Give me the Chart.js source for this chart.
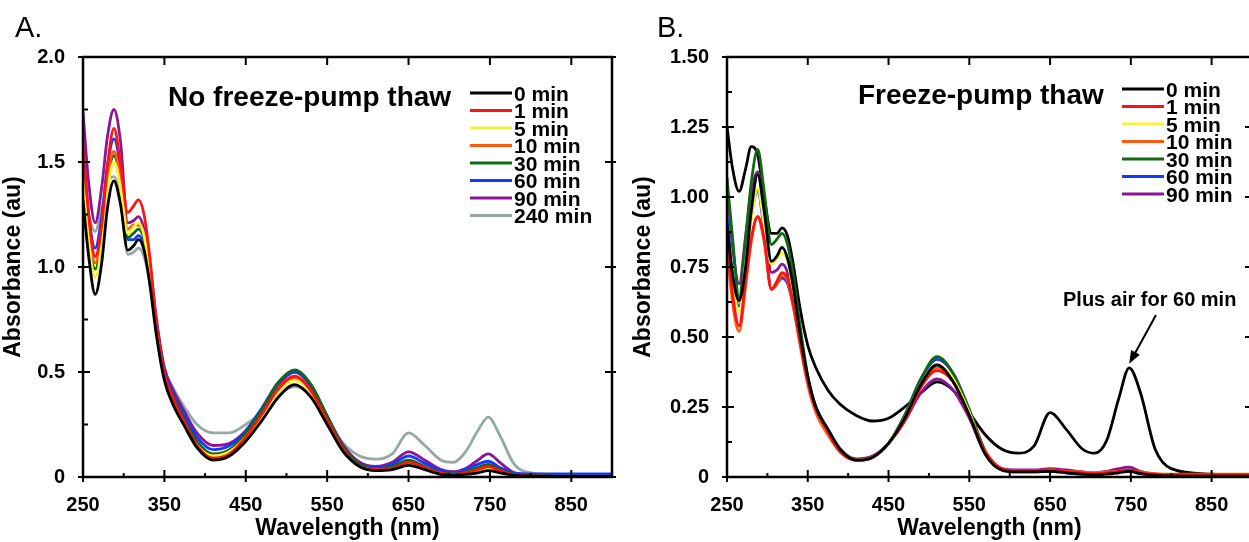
<!DOCTYPE html>
<html>
<head>
<meta charset="utf-8">
<script src="https://cdn.jsdelivr.net/npm/chart.js@4.4.1/dist/chart.umd.min.js"></script>
<style>
html, body { margin: 0; padding: 0; background: #fff; overflow: hidden; width: 1249px; height: 542px; }
#panelA { position: absolute; left: 0; top: 0; }
#panelB { position: absolute; left: 630px; top: 0; }
</style>
</head>
<body>
<canvas id="panelA" width="630" height="542"></canvas>
<canvas id="panelB" width="640" height="542"></canvas>
<script>
// wavelengths (nm) shared by every spectrum
const wavelengths = [250, 257, 265, 273, 280, 288, 296, 305, 312, 318, 325, 332, 340, 350, 360, 375, 390, 410, 430, 450, 470, 490, 510, 530, 550, 570, 590, 610, 630, 650, 670, 690, 705, 720, 735, 748, 762, 780, 800, 850, 900];

// axis ticks
const xTickValues = [250, 350, 450, 550, 650, 750, 850];
const xMinorTicks = [300, 400, 500, 600, 700, 800, 900];
const yTicksA = [0, 0.5, 1.0, 1.5, 2.0];
const yMinorA = [0.25, 0.75, 1.25, 1.75];
const yTicksB = [0, 0.25, 0.5, 0.75, 1.0, 1.25, 1.5];
const yMinorB = [0.125, 0.375, 0.625, 0.875, 1.125, 1.375];

const timeLabelsA = ['0 min', '1 min', '5 min', '10 min', '30 min', '60 min', '90 min', '240 min'];
const timeLabelsB = ['0 min', '1 min', '5 min', '10 min', '30 min', '60 min', '90 min'];
const lineColors = ['#000000', '#ff1212', '#f4f43a', '#ff5a14', '#0f6a12', '#1438ff', '#8a1696', '#96a8a4'];

// A. No freeze-pump thaw
const noFpt0 =   [1.32,1.05,0.87,1.02,1.28,1.41,1.30,1.08,1.10,1.13,1.08,0.92,0.68,0.46,0.35,0.24,0.14,0.08,0.10,0.17,0.27,0.38,0.44,0.38,0.25,0.12,0.05,0.03,0.035,0.055,0.035,0.012,0.008,0.012,0.02,0.03,0.02,0.008,0.005,0.003,0.003];
const noFpt1 =   [1.58,1.25,1.05,1.20,1.48,1.66,1.50,1.26,1.29,1.32,1.25,1.05,0.74,0.49,0.38,0.26,0.15,0.09,0.11,0.19,0.30,0.42,0.48,0.41,0.27,0.13,0.05,0.035,0.04,0.07,0.045,0.018,0.012,0.02,0.035,0.05,0.03,0.01,0.005,0.003,0.003];
const noFpt5 =   [1.42,1.12,0.95,1.10,1.36,1.50,1.38,1.16,1.19,1.21,1.15,0.98,0.71,0.47,0.36,0.25,0.15,0.10,0.12,0.19,0.29,0.40,0.46,0.40,0.26,0.12,0.05,0.033,0.038,0.06,0.04,0.015,0.01,0.016,0.028,0.04,0.025,0.008,0.004,0.003,0.003];
const noFpt10 =  [1.45,1.18,1.02,1.16,1.42,1.55,1.42,1.18,1.20,1.20,1.15,0.98,0.72,0.48,0.37,0.25,0.15,0.10,0.12,0.19,0.29,0.41,0.47,0.40,0.26,0.12,0.05,0.034,0.04,0.065,0.042,0.016,0.011,0.018,0.032,0.045,0.028,0.009,0.004,0.003,0.003];
const noFpt30 =  [1.48,1.15,0.99,1.14,1.40,1.53,1.41,1.14,1.16,1.18,1.13,0.98,0.73,0.49,0.39,0.27,0.17,0.11,0.13,0.21,0.32,0.45,0.51,0.44,0.29,0.14,0.06,0.04,0.05,0.08,0.05,0.02,0.015,0.025,0.045,0.06,0.035,0.012,0.006,0.004,0.004];
const noFpt60 =  [1.57,1.25,1.09,1.24,1.48,1.61,1.47,1.13,1.13,1.15,1.10,0.97,0.74,0.50,0.40,0.29,0.19,0.13,0.15,0.22,0.33,0.45,0.50,0.44,0.29,0.14,0.06,0.045,0.06,0.10,0.065,0.03,0.02,0.035,0.06,0.075,0.045,0.02,0.015,0.015,0.015];
const noFpt90 =  [1.74,1.40,1.21,1.38,1.62,1.75,1.60,1.21,1.22,1.24,1.18,1.02,0.76,0.52,0.42,0.31,0.21,0.15,0.16,0.22,0.32,0.44,0.50,0.43,0.29,0.15,0.07,0.05,0.07,0.12,0.08,0.035,0.025,0.04,0.08,0.11,0.07,0.02,0.01,0.01,0.01];
const noFpt240 = [1.40,1.25,1.17,1.28,1.40,1.43,1.33,1.06,1.07,1.09,1.05,0.93,0.73,0.52,0.43,0.33,0.25,0.21,0.21,0.25,0.31,0.39,0.43,0.39,0.27,0.16,0.10,0.085,0.11,0.21,0.15,0.08,0.07,0.12,0.22,0.285,0.20,0.06,0.02,0.01,0.01];

// B. Freeze-pump thaw
const fpt0 =   [0.90,0.72,0.63,0.75,0.95,1.08,0.95,0.77,0.79,0.82,0.78,0.68,0.52,0.36,0.25,0.17,0.10,0.06,0.07,0.12,0.21,0.33,0.40,0.34,0.22,0.08,0.025,0.018,0.018,0.02,0.015,0.01,0.008,0.01,0.015,0.02,0.012,0.006,0.004,0.003,0.003];
const fpt1 =   [0.85,0.65,0.54,0.70,0.85,0.93,0.85,0.67,0.70,0.73,0.71,0.62,0.49,0.34,0.24,0.16,0.09,0.06,0.07,0.12,0.20,0.32,0.38,0.34,0.22,0.09,0.03,0.022,0.022,0.025,0.02,0.015,0.012,0.015,0.02,0.025,0.015,0.01,0.008,0.008,0.008];
const fpt5 =   [0.88,0.70,0.59,0.76,0.92,1.03,0.90,0.76,0.78,0.80,0.77,0.66,0.51,0.35,0.24,0.16,0.10,0.06,0.07,0.12,0.21,0.33,0.40,0.35,0.23,0.08,0.025,0.02,0.02,0.022,0.017,0.012,0.01,0.012,0.018,0.022,0.013,0.008,0.006,0.005,0.005];
const fpt10 =  [0.82,0.62,0.52,0.68,0.84,0.93,0.84,0.67,0.69,0.72,0.70,0.61,0.48,0.33,0.23,0.15,0.09,0.06,0.07,0.12,0.21,0.33,0.39,0.34,0.22,0.09,0.03,0.022,0.022,0.025,0.02,0.018,0.015,0.018,0.02,0.022,0.018,0.012,0.01,0.01,0.01];
const fpt30 =  [1.07,0.85,0.64,0.85,1.05,1.17,1.02,0.83,0.85,0.87,0.83,0.72,0.55,0.36,0.25,0.17,0.10,0.06,0.07,0.12,0.22,0.35,0.43,0.37,0.24,0.09,0.025,0.02,0.02,0.025,0.02,0.015,0.012,0.015,0.02,0.025,0.015,0.01,0.008,0.006,0.005];
const fpt60 =  [0.93,0.72,0.61,0.77,0.93,1.02,0.88,0.67,0.69,0.71,0.69,0.61,0.49,0.34,0.24,0.16,0.10,0.06,0.07,0.12,0.22,0.35,0.42,0.37,0.24,0.09,0.025,0.018,0.018,0.02,0.015,0.01,0.008,0.012,0.018,0.022,0.012,0.008,0.006,0.005,0.005];
const fpt90 =  [1.04,0.82,0.69,0.86,1.02,1.09,0.95,0.73,0.74,0.76,0.73,0.64,0.50,0.35,0.25,0.17,0.10,0.065,0.075,0.12,0.20,0.30,0.35,0.31,0.21,0.08,0.03,0.025,0.025,0.03,0.025,0.018,0.015,0.02,0.03,0.035,0.02,0.01,0.008,0.006,0.005];
const fptPlusAir = [1.25,1.10,1.02,1.10,1.18,1.15,1.00,0.87,0.87,0.89,0.86,0.76,0.61,0.47,0.39,0.31,0.26,0.22,0.20,0.21,0.25,0.30,0.34,0.31,0.23,0.15,0.10,0.085,0.11,0.23,0.17,0.10,0.085,0.13,0.28,0.39,0.30,0.10,0.03,0.01,0.005];

Chart.defaults.font.family = "'Liberation Sans', Arial, sans-serif";
Chart.defaults.font.weight = 'bold';
Chart.defaults.color = '#000';

function toPoints(values) {
    return wavelengths.map((w, i) => ({ x: w, y: values[i] }));
}

function makeDataset(label, values, color, hideInLegend) {
    return {
        label: label,
        data: toPoints(values),
        borderColor: color,
        backgroundColor: color,
        borderWidth: 2.8,
        pointRadius: 0,
        cubicInterpolationMode: 'monotone',
        hideInLegend: !!hideInLegend
    };
}

// frame, inward ticks, panel letter, title, legend and annotation
const decorPlugin = {
    id: 'decor',
    afterDatasetsDraw(chart, args, opts) {
        const ctx = chart.ctx;
        const { left, right, top, bottom } = chart.chartArea;
        const xs = chart.scales.x, ys = chart.scales.y;
        ctx.save();
        ctx.strokeStyle = '#000';
        ctx.lineWidth = 2.5;
        ctx.strokeRect(left, top, right - left, bottom - top);

        ctx.lineWidth = 2;
        ctx.beginPath();
        opts.xMajor.forEach(v => {
            const px = xs.getPixelForValue(v);
            ctx.moveTo(px, bottom + 5); ctx.lineTo(px, bottom - 7);
            ctx.moveTo(px, top); ctx.lineTo(px, top + 8);
        });
        opts.xMinor.forEach(v => {
            const px = xs.getPixelForValue(v);
            ctx.moveTo(px, bottom); ctx.lineTo(px, bottom - 4);
        });
        opts.yMajor.forEach(v => {
            const py = ys.getPixelForValue(v);
            ctx.moveTo(left - 5, py); ctx.lineTo(left + 7, py);
            ctx.moveTo(right + 4, py); ctx.lineTo(right - 7, py);
        });
        opts.yMinor.forEach(v => {
            const py = ys.getPixelForValue(v);
            ctx.moveTo(left, py); ctx.lineTo(left + 5, py);
        });
        ctx.stroke();

        // panel letter
        ctx.fillStyle = '#000';
        ctx.textAlign = 'left';
        ctx.textBaseline = 'alphabetic';
        ctx.font = "normal 29px 'Liberation Sans', Arial, sans-serif";
        ctx.fillText(opts.letter, opts.letterX, 37);

        // in-plot title
        ctx.font = "bold 28px 'Liberation Sans', Arial, sans-serif";
        ctx.fillText(opts.title, opts.titleX, opts.titleY);

        // legend
        ctx.font = "bold 21px 'Liberation Sans', Arial, sans-serif";
        let row = 0;
        chart.data.datasets.forEach(ds => {
            if (ds.hideInLegend) return;
            const y = opts.legendY + row * 17.5;
            ctx.strokeStyle = ds.borderColor;
            ctx.lineWidth = 3;
            ctx.beginPath();
            ctx.moveTo(opts.legendX, y);
            ctx.lineTo(opts.legendX + 42, y);
            ctx.stroke();
            ctx.fillText(ds.label, opts.legendX + 44, y + 7.5);
            row++;
        });

        // annotation with arrow
        if (opts.note) {
            ctx.font = "bold 20px 'Liberation Sans', Arial, sans-serif";
            ctx.fillText(opts.note.text, opts.note.x, opts.note.y);
            const tx = xs.getPixelForValue(opts.note.pointX);
            const ty = ys.getPixelForValue(opts.note.pointY) - 4;
            const sx = opts.note.arrowX, sy = opts.note.arrowY;
            const ang = Math.atan2(ty - sy, tx - sx);
            ctx.strokeStyle = '#000';
            ctx.lineWidth = 2;
            ctx.beginPath();
            ctx.moveTo(sx, sy);
            ctx.lineTo(tx - 10 * Math.cos(ang), ty - 10 * Math.sin(ang));
            ctx.stroke();
            ctx.beginPath();
            ctx.moveTo(tx, ty);
            ctx.lineTo(tx - 13 * Math.cos(ang) + 5 * Math.sin(ang), ty - 13 * Math.sin(ang) - 5 * Math.cos(ang));
            ctx.lineTo(tx - 13 * Math.cos(ang) - 5 * Math.sin(ang), ty - 13 * Math.sin(ang) + 5 * Math.cos(ang));
            ctx.closePath();
            ctx.fill();
        }
        ctx.restore();
    }
};

function makeScales(yMax, yTicks, decimals, yAxisWidth) {
    return {
        x: {
            type: 'linear',
            min: 250,
            max: 900,
            afterBuildTicks: s => { s.ticks = xTickValues.map(v => ({ value: v })); },
            afterFit: s => { s.height = 65; },
            grid: { display: false },
            border: { display: false },
            ticks: { font: { size: 20, weight: 'bold' }, padding: 8, maxRotation: 0 },
            title: { display: true, text: 'Wavelength (nm)', font: { size: 23, weight: 'bold' }, padding: { top: 0, bottom: 0 } }
        },
        y: {
            type: 'linear',
            min: 0,
            max: yMax,
            afterBuildTicks: s => { s.ticks = yTicks.map(v => ({ value: v })); },
            afterFit: s => { s.width = yAxisWidth; },
            grid: { display: false },
            border: { display: false },
            ticks: {
                font: { size: 20, weight: 'bold' },
                padding: 10,
                callback: v => v === 0 ? '0' : v.toFixed(decimals)
            },
            title: { display: true, text: 'Absorbance (au)', font: { size: 23, weight: 'bold' }, padding: { top: 0, bottom: 12 } }
        }
    };
}

// Panel A
const dataA = [noFpt0, noFpt1, noFpt5, noFpt10, noFpt30, noFpt60, noFpt90, noFpt240];
new Chart(document.getElementById('panelA').getContext('2d'), {
    type: 'line',
    data: {
        datasets: dataA.map((vals, i) => makeDataset(timeLabelsA[i], vals, lineColors[i]))
    },
    options: {
        responsive: false,
        animation: false,
        layout: { padding: { top: 57, right: 18, left: 0, bottom: 0 } },
        scales: makeScales(2.0, yTicksA, 1, 83),
        plugins: {
            legend: { display: false },
            tooltip: { enabled: false },
            decor: {
                xMajor: xTickValues, xMinor: xMinorTicks, yMajor: yTicksA, yMinor: yMinorA,
                letter: 'A.', letterX: 15,
                title: 'No freeze-pump thaw', titleX: 168, titleY: 106,
                legendX: 470, legendY: 93
            }
        }
    },
    plugins: [decorPlugin]
});

// Panel B
const dataB = [fpt0, fpt1, fpt5, fpt10, fpt30, fpt60, fpt90];
const datasetsB = dataB.map((vals, i) => makeDataset(timeLabelsB[i], vals, lineColors[i]));
datasetsB.push(makeDataset('Plus air for 60 min', fptPlusAir, '#000000', true));
new Chart(document.getElementById('panelB').getContext('2d'), {
    type: 'line',
    data: { datasets: datasetsB },
    options: {
        responsive: false,
        animation: false,
        layout: { padding: { top: 57, right: 18, left: 0, bottom: 0 } },
        scales: makeScales(1.5, yTicksB, 2, 97),
        plugins: {
            legend: { display: false },
            tooltip: { enabled: false },
            decor: {
                xMajor: xTickValues, xMinor: xMinorTicks, yMajor: yTicksB, yMinor: yMinorB,
                letter: 'B.', letterX: 27,
                title: 'Freeze-pump thaw', titleX: 228, titleY: 104,
                legendX: 492, legendY: 89,
                note: { text: 'Plus air for 60 min', x: 433, y: 306, arrowX: 526, arrowY: 315, pointX: 748, pointY: 0.39 }
            }
        }
    },
    plugins: [decorPlugin]
});
</script>
</body>
</html>
